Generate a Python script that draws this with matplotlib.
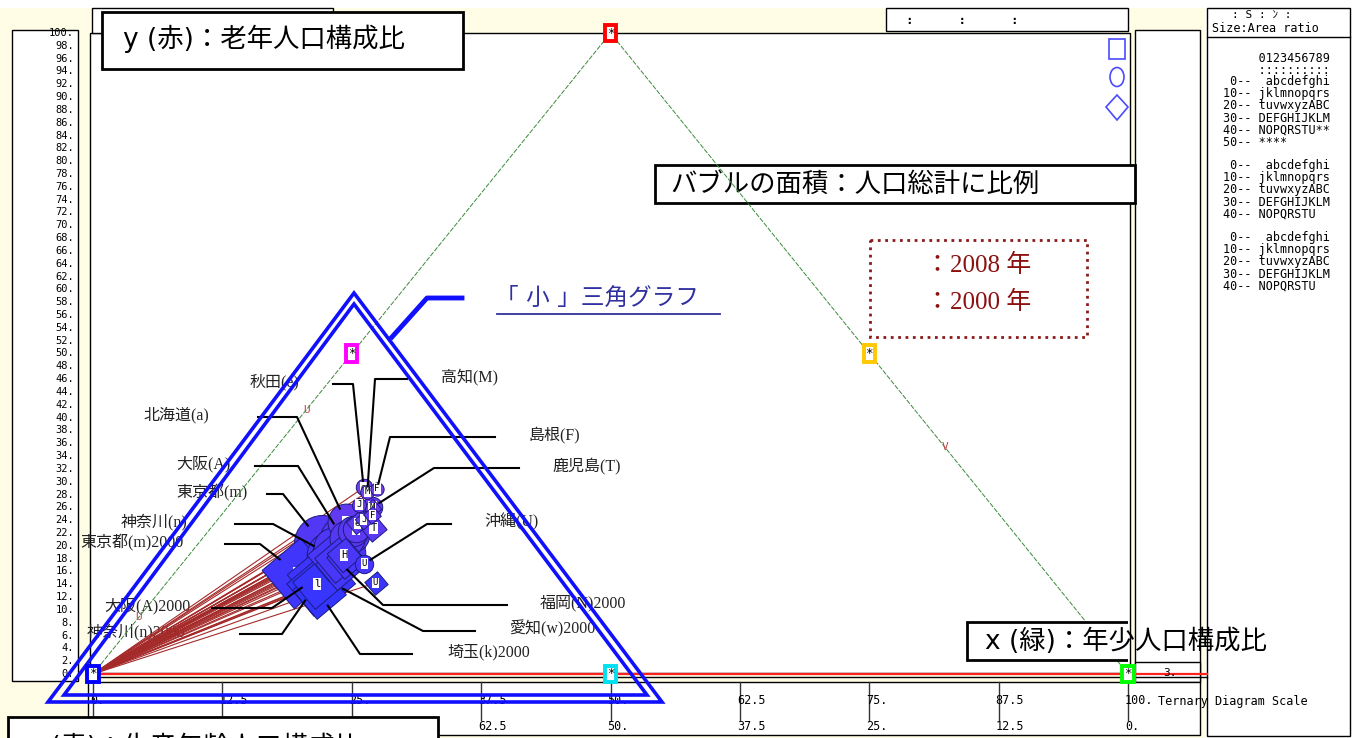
import numpy as np
import matplotlib
matplotlib.use('Agg')
import matplotlib.pyplot as plt
import matplotlib.transforms as mtransforms
from matplotlib.patches import Rectangle, Polygon, Ellipse
from matplotlib.markers import MarkerStyle
from matplotlib.colors import LinearSegmentedColormap, Normalize

# ---- data (percent of population, population in 10k people)
codes = ['m', 'n', 'A', 'w', 'k', 'l', 'a', 'B', 'N', 'v', 'H', 'T', 'U', 'e', 'J', 'M', 'F']
pop_2008 = [1284, 890, 881, 740, 711, 613, 555, 559, 505, 379, 287, 172, 138, 111, 80, 78, 72]
young_2008 = [11.9, 13.6, 13.7, 14.8, 13.7, 13.3, 12.6, 14.0, 13.9, 14.0, 14.1, 14.0, 17.6, 11.6, 12.5, 12.3, 13.0]
old_2008 = [20.4, 18.6, 21.0, 18.9, 18.9, 19.8, 23.7, 21.9, 21.2, 22.3, 22.6, 26.0, 17.2, 29.1, 26.4, 28.4, 28.9]
pop_2000 = [1206, 849, 881, 704, 694, 593, 568, 555, 502, 377, 288, 179, 132, 119, 82, 81, 76]
young_2000 = [11.8, 14.6, 14.1, 15.5, 15.4, 14.6, 13.9, 15.3, 14.7, 15.4, 15.0, 15.7, 20.2, 13.8, 14.1, 14.0, 14.6]
old_2000 = [15.8, 13.8, 15.1, 14.5, 12.8, 14.1, 18.2, 16.9, 17.8, 18.0, 18.5, 22.8, 14.2, 23.5, 24.1, 25.9, 24.8]

scale_ticks = [0, 12.5, 25, 37.5, 50, 62.5, 75, 87.5, 100]
y_ticks = list(range(100, -1, -2))

# name labels: text, code, year, text x, line start x, elbow x, y  (pixels)
leaders = [
    ('秋田(e)', 'e', 2008, 250, 333, 353, 384),
    ('高知(M)', 'M', 2008, 441, 407, 375, 379),
    ('北海道(a)', 'a', 2008, 143, 258, 297, 417),
    ('島根(F)', 'F', 2008, 528, 495, 390, 437),
    ('大阪(A)', 'A', 2008, 176, 255, 298, 466),
    ('鹿児島(T)', 'T', 2008, 552, 519, 434, 468),
    ('東京都(m)', 'm', 2008, 176, 267, 283, 494),
    ('神奈川(n)', 'n', 2008, 121, 235, 273, 524),
    ('沖縄(U)', 'U', 2008, 484, 451, 427, 524),
    ('東京都(m)2000', 'm', 2000, 80, 225, 260, 544),
    ('大阪(A)2000', 'A', 2000, 104, 212, 272, 608),
    ('福岡(N)2000', 'N', 2000, 540, 507, 383, 605),
    ('神奈川(n)2000', 'n', 2000, 87, 240, 282, 634),
    ('愛知(w)2000', 'w', 2000, 509, 475, 423, 631),
    ('埼玉(k)2000', 'k', 2000, 447, 412, 360, 654),
]

legend_lines = [
    '     0123456789',
    '     ::::::::::',
    ' 0--  abcdefghi',
    '10-- jklmnopqrs',
    '20-- tuvwxyzABC',
    '30-- DEFGHIJKLM',
    '40-- NOPQRSTU**',
    '50-- ****',
    '',
    ' 0--  abcdefghi',
    '10-- jklmnopqrs',
    '20-- tuvwxyzABC',
    '30-- DEFGHIJKLM',
    '40-- NOPQRSTU',
    '',
    ' 0--  abcdefghi',
    '10-- jklmnopqrs',
    '20-- tuvwxyzABC',
    '30-- DEFGHIJKLM',
    '40-- NOPQRSTU',
]

JP = ['DejaVu Sans', 'Noto Sans CJK JP']
SERIF = ['Liberation Serif', 'Noto Sans CJK JP']
MONO = ['DejaVu Sans Mono', 'Noto Sans CJK JP']
CREAM = '#fffde6'

W, H = 1354, 738
fig = plt.figure(figsize=(W / 100, H / 100), dpi=100)
ax = fig.add_axes([0, 0, 1, 1])
ax.set_xlim(0, W)
ax.set_ylim(H, 0)
ax.axis('off')

# triangle axes: X = young + old/2, Y = old
X0, X1, Y0, Y1 = 93, 1128, 674, 33
tax = fig.add_axes([X0 / W, 1 - Y0 / H, (X1 - X0) / W, (Y0 - Y1) / H], zorder=1)
tax.set_xlim(0, 100)
tax.set_ylim(0, 100)
tax.axis('off')
tax.patch.set_alpha(0)


def to_px(x, y):
    return ax.transData.inverted().transform(tax.transData.transform((x, y)))


def box(x, y, w, h, lw=1.0, fc='white', ec='black', z=1, target=None, **kw):
    r = Rectangle((x, y), w, h, fc=fc, ec=ec, lw=lw, zorder=z, transform=ax.transData, **kw)
    (target or ax).add_patch(r)
    return r


# ---- frame / panels
box(0, 8, 1205, 730, lw=0, fc=CREAM, z=0)
box(12, 30, 66, 651)                 # y scale panel
box(90, 33, 1040, 640)                # main area
box(92, 8, 241, 25)
box(886, 8, 242, 23)
ax.text(906, 20, ':      :      :', fontsize=9, va='center', family=MONO, fontweight='bold')
box(1135, 30, 65, 652)
box(1135, 662, 65, 20)
ax.text(1170, 673, '3.', fontsize=8, ha='center', va='center', family=MONO)
box(88, 682, 1112, 53)                # scale panel
box(1207, 8, 143, 728)                # right panel
ax.plot([1207, 1350], [37, 37], color='black', lw=1)
ax.text(1232, 15, ': S : ﾝ :', fontsize=8, va='center', family=MONO)
ax.text(1212, 28, 'Size:Area ratio', fontsize=8.5, va='center', family=MONO)
for i, line in enumerate(legend_lines):
    ax.text(1223, 58 + 12 * i, line, fontsize=8.5, va='center', family=MONO)

# base line
ax.plot([90, 1207], [674, 674], color='#ff2020', lw=1.6, zorder=2)
ax.plot([90, 1207], [676.5, 676.5], color='black', lw=1, zorder=2)

# y labels of the scale panel
ylab = mtransforms.blended_transform_factory(ax.transData, tax.transData)
for v in y_ticks:
    ax.text(74, v, f'{v}.', transform=ylab, fontsize=7.5, ha='right', va='center', family=MONO)

# bottom scale ticks
xlab = mtransforms.blended_transform_factory(tax.transData, ax.transData)
for v in scale_ticks:
    ax.plot([v, v], [682, 720], transform=xlab, color='#333333', lw=1)
    t1 = f'{v:g}.' if float(v).is_integer() else f'{v:g}'
    b = 100 - v
    t2 = f'{b:g}.' if float(b).is_integer() else f'{b:g}'
    px = to_px(v, 0)[0]
    ax.text(px - 3, 701, t1, fontsize=8.5, va='center', family=MONO)
    ax.text(px - 3, 726, t2, fontsize=8.5, va='center', family=MONO)
ax.text(1158, 701, 'Ternary Diagram Scale', fontsize=8.5, va='center', family=MONO)

# ---- triangle edges and corner markers
tax.plot([0, 50, 100], [0, 100, 0], color='#3a8a3a', lw=0.7, ls=(0, (5, 1.5)), zorder=1, clip_on=False)
corner_marks = [(0, 0, '#0000ff'), (50, 0, '#00e0f0'), (100, 0, '#00ff00'),
                (50, 100, '#ff0000'), (25, 50, '#ff00ff'), (75, 50, '#ffc800')]
for x, y, c in corner_marks:
    tax.text(x, y, '*', fontsize=9, ha='center', va='center', family=MONO, zorder=20,
             bbox=dict(boxstyle='square,pad=0.15', fc='white', ec=c, lw=2.8), clip_on=False)
edge_marks = [('U', 20.6, 41.2), ('U', 4.4, 8.9), ('V', 82.3, 35.4)]
for s, x, y in edge_marks:
    tax.text(x, y, s, fontsize=8, color='#c04848', ha='center', va='center', family=MONO, zorder=2)

# legend shapes top right
box(1109, 39, 16, 20, lw=1.2, fc='none', ec='#4a4aff')
ax.add_patch(Ellipse((1117, 77), 14, 19, fc='none', ec='#4a4aff', lw=1.2))
ax.add_patch(Polygon([(1117, 95), (1128, 107), (1117, 120), (1106, 107)], closed=True,
                     fc='none', ec='#4a4aff', lw=1.2))

# ---- bubbles
cmap = LinearSegmentedColormap.from_list('bub', ['#3434ff', '#7a3ce8'])
norm = Normalize(13, 30)
sq = MarkerStyle('s').rotated(deg=40)
bubbles = []
for yr, pops, ys, olds in ((2008, pop_2008, young_2008, old_2008), (2000, pop_2000, young_2000, old_2000)):
    for c, p, yv, ov in zip(codes, pops, ys, olds):
        r = 28 * np.sqrt(p / 1284)
        bubbles.append((yr, c, yv + ov / 2, ov, r))

pos = {}
for yr, c, x, y, r in bubbles:
    tax.plot([0, x], [0, y], color='#a52a2a', lw=0.8, zorder=2)
    pos[(c, yr)] = (x, y, r)

for i, (yr, c, x, y, r) in enumerate(sorted(bubbles, key=lambda b: -b[4])):
    z = 3 + i * 0.01
    if yr == 2008:
        tax.scatter([x], [y], s=(2 * r * 0.72) ** 2, marker='o', color=cmap(norm(y)),
                    edgecolor='#1c1c80', lw=0.7, zorder=z, clip_on=False)
    else:
        tax.scatter([x], [y], s=(1.85 * r * 0.72) ** 2, marker=sq, color=cmap(norm(y)),
                    edgecolor='#1c1c80', lw=0.7, zorder=z, clip_on=False)
    tax.text(x, y, c, fontsize=7.5 if r > 10 else 6.5, ha='center', va='center', family=MONO,
             zorder=z + 0.005, bbox=dict(boxstyle='square,pad=0.1', fc='white', ec='none'))

# ---- name labels with leader lines
for text, c, yr, tx, lx, ex, ly in leaders:
    x, y, r = pos[(c, yr)]
    bx, by = to_px(x, y)
    d = np.hypot(ex - bx, ly - by)
    endx = bx + (ex - bx) / d * r * 0.8
    endy = by + (ly - by) / d * r * 0.8
    tax.plot([lx, ex, endx], [ly, ly, endy], color='black', lw=1.5, transform=ax.transData,
             zorder=8, clip_on=False)
    ax.text(tx, ly - 2, text, fontsize=11.5, va='center', family=SERIF, color='#222222')

# ---- "small triangle" annotation
outer = [(48, 702), (354, 293), (662, 702)]
inner = [(64, 695), (354, 304), (647, 695)]
for tri in (outer, inner):
    tax.add_patch(Polygon(tri, closed=True, fc='none', ec='#1010ff', lw=2.6,
                          transform=ax.transData, zorder=12, clip_on=False))
ax.plot([462, 427, 392], [298, 298, 337], color='#1010ff', lw=3.5, zorder=5)
ax.text(495, 298, '「 小 」三角グラフ', fontsize=17, color='#3030a0', va='center', family=JP)
ax.plot([497, 720], [314, 314], color='#3030a0', lw=1.3)

# ---- title boxes
box(102, 12, 361, 57, lw=2)
ax.text(123, 39, 'y (赤)：老年人口構成比', fontsize=19, va='center', family=JP)
box(655, 165, 480, 38, lw=2)
ax.text(670, 185, 'バブルの面積：人口総計に比例', fontsize=19, va='center', family=JP)
box(967, 622, 361, 38, lw=2, z=30, target=tax)
tax.text(985, 642, 'x (緑)：年少人口構成比', fontsize=19, va='center', family=JP,
         transform=ax.transData, zorder=31)
box(8, 717, 430, 60, lw=2, z=5)
ax.text(28, 748, 'z (青)：生産年齢人口構成比', fontsize=19, va='center', family=JP, zorder=6)

box(870, 240, 217, 97, lw=2, fc='none', ec='#8b1a1a', ls=':')
ax.text(925, 265, '：2008 年', fontsize=18, va='center', family=SERIF, color='#8b1010')
ax.text(925, 302, '：2000 年', fontsize=18, va='center', family=SERIF, color='#8b1010')

fig.savefig('out.png', dpi=100, facecolor='white')
